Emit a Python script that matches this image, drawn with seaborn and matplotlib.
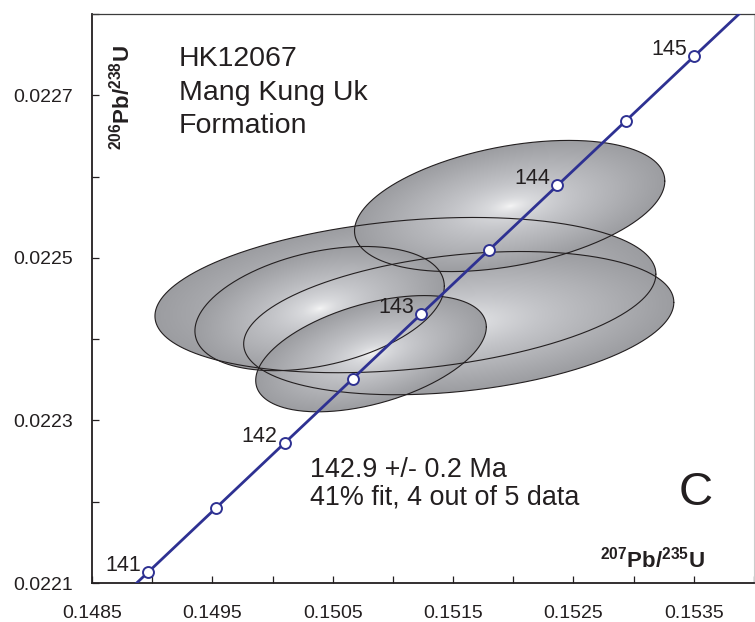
import numpy as np
import matplotlib
matplotlib.use("Agg")
import matplotlib.pyplot as plt
import seaborn as sns
from matplotlib.patches import Polygon
from matplotlib.colors import LinearSegmentedColormap

# ---------------- data ----------------
# Concordia curve (age in Ma, 207Pb/235U, 206Pb/238U)
conc_age = [140.8, 141.0, 141.5, 142.0, 142.5, 143.0, 143.5, 144.0, 144.5, 145.0, 145.5]
conc_x = [0.1487413, 0.1489676, 0.1495335, 0.1500997, 0.1506662, 0.1512330,
          0.1518000, 0.1523673, 0.1529349, 0.1535028, 0.1540709]
conc_y = [0.0220818, 0.0221135, 0.0221928, 0.0222721, 0.0223513, 0.0224306,
          0.0225099, 0.0225892, 0.0226685, 0.0227480, 0.0228272]
# age markers on the concordia (every 0.5 Ma), labelled every 1 Ma
mark_age = [141.0, 141.5, 142.0, 142.5, 143.0, 143.5, 144.0, 144.5, 145.0]
label_age = [141.0, 142.0, 143.0, 144.0, 145.0]

# Error ellipses (centre, half-widths, correlation), drawing order
ell_x = [0.151104, 0.151547, 0.151970, 0.150391, 0.150818]
ell_y = [0.0224542, 0.0224197, 0.0225638, 0.0224376, 0.0223821]
ell_sx = [0.002081, 0.001787, 0.001289, 0.001036, 0.000958]
ell_sy = [0.0000955, 0.0000881, 0.0000807, 0.0000764, 0.0000715]
ell_rho = [0.27, 0.29, 0.38, 0.36, 0.46]

x_ticks = [0.1485, 0.1495, 0.1505, 0.1515, 0.1525, 0.1535]
x_minor = [0.1490, 0.1500, 0.1510, 0.1520, 0.1530, 0.1540]
y_ticks = [0.0221, 0.0223, 0.0225, 0.0227]
y_minor = [0.0222, 0.0224, 0.0226, 0.0228]

title_lines = ["HK12067", "Mang Kung Uk", "Formation"]
stat_lines = ["142.9 +/- 0.2 Ma", "41% fit, 4 out of 5 data"]
panel_letter = "C"

# ---------------- style ----------------
sns.set_style("ticks")
plt.rcParams["font.family"] = ["Liberation Sans", "DejaVu Sans"]
plt.rcParams["mathtext.fontset"] = "custom"
plt.rcParams["mathtext.rm"] = "Liberation Sans"
plt.rcParams["mathtext.bf"] = "Liberation Sans:bold"
plt.rcParams["mathtext.it"] = "Liberation Sans:italic"

TXT = "#231f20"
BLUE = "#2e3192"

fig = plt.figure(figsize=(7.55, 6.22), dpi=100)
ax = fig.add_axes([92 / 755, 1 - 583 / 622, 662 / 755, 569 / 622])

cmap = LinearSegmentedColormap.from_list(
    "shade", ["#f7f7f7", "#d9dadd", "#c4c5c9", "#b1b2b6", "#9c9da1"])

th = np.linspace(0, 2 * np.pi, 721)
outlines = []
for i in range(len(ell_x)):
    cx, cy, sx, sy, r = ell_x[i], ell_y[i], ell_sx[i], ell_sy[i], ell_rho[i]
    ex = cx + sx * np.cos(th)
    ey = cy + sy * (r * np.cos(th) + np.sqrt(1 - r * r) * np.sin(th))
    poly = Polygon(np.column_stack([ex, ey]), closed=True,
                   facecolor="none", edgecolor="none")
    ax.add_patch(poly)
    gx = np.linspace(cx - sx, cx + sx, 400)
    gy = np.linspace(cy - sy, cy + sy, 300)
    GX, GY = np.meshgrid(gx, gy)
    u = (GX - cx) / sx
    v = (GY - cy) / sy
    d = np.sqrt(np.clip((u * u - 2 * r * u * v + v * v) / (1 - r * r), 0, None))
    im = ax.imshow(np.clip(d, 0, 1) ** 0.7, extent=[cx - sx, cx + sx, cy - sy, cy + sy],
                   origin="lower", aspect="auto", cmap=cmap, vmin=0, vmax=1,
                   interpolation="bilinear", zorder=1 + 0.01 * i)
    im.set_clip_path(poly)
    outlines.append((ex, ey))

for ex, ey in outlines:
    ax.plot(ex, ey, color=TXT, lw=0.8, zorder=3)

# concordia
sns.lineplot(x=conc_x, y=conc_y, sort=False, color=BLUE, lw=2.0, ax=ax, zorder=4)
mx = [conc_x[conc_age.index(a)] for a in mark_age]
my = [conc_y[conc_age.index(a)] for a in mark_age]
sns.scatterplot(x=mx, y=my, s=62, color="white", edgecolor=BLUE, linewidth=1.4,
                ax=ax, zorder=5)
for a in label_age:
    j = conc_age.index(a)
    ax.annotate(f"{a:.0f}", (conc_x[j], conc_y[j]), xytext=(-5, 1),
                textcoords="offset points", ha="right", va="baseline",
                fontsize=15.5, color=TXT, zorder=6)

ax.set_xlim(0.1485, 0.1540)
ax.set_ylim(0.0221, 0.0228)
ax.set_xticks(x_ticks)
ax.set_xticks(x_minor, minor=True)
ax.set_yticks(y_ticks)
ax.set_yticks(y_minor, minor=True)
ax.set_xticklabels([f"{t:.4f}" for t in x_ticks])
ax.set_yticklabels([f"{t:.4f}" for t in y_ticks])
ax.tick_params(which="both", direction="in", length=5, width=0.9, color=TXT,
               top=False, right=False)
ax.tick_params(axis="x", which="major", pad=16, labelsize=14, labelcolor=TXT)
ax.tick_params(axis="y", which="major", pad=14, labelsize=14, labelcolor=TXT)
ax.set_xlabel("")
ax.set_ylabel("")

ax.spines["left"].set_color(TXT)
ax.spines["bottom"].set_color(TXT)
ax.spines["left"].set_linewidth(1.3)
ax.spines["bottom"].set_linewidth(1.3)
ax.spines["top"].set_color("#3c3c3c")
ax.spines["top"].set_linewidth(0.9)
ax.spines["right"].set_color("#cccccc")
ax.spines["right"].set_linewidth(0.8)

# title block
for k, (line, yb) in enumerate(zip(title_lines, [0.9086, 0.8489, 0.7909])):
    ax.text(0.131, yb, line, transform=ax.transAxes, ha="left", va="baseline",
            fontsize=20.5, color=TXT, zorder=7)
for line, yb in zip(stat_lines, [0.1869, 0.1371]):
    ax.text(0.330, yb, line, transform=ax.transAxes, ha="left", va="baseline",
            fontsize=19.4, color=TXT, zorder=7)
ax.text(0.912, 0.1371, panel_letter, transform=ax.transAxes, ha="center",
        va="baseline", fontsize=34, color=TXT, zorder=7)

# axis labels inside the frame
ax.text(0.926, 0.0264, r"$\mathbf{^{207}Pb/^{235}U}$", transform=ax.transAxes,
        ha="right", va="baseline", fontsize=16, color=TXT, zorder=7)
ax.text(0.0453, 0.853, r"$\mathbf{^{206}Pb/^{238}U}$", transform=ax.transAxes,
        ha="center", va="center", rotation=90, fontsize=16, color=TXT, zorder=7)

fig.savefig("out.png", dpi=100)
